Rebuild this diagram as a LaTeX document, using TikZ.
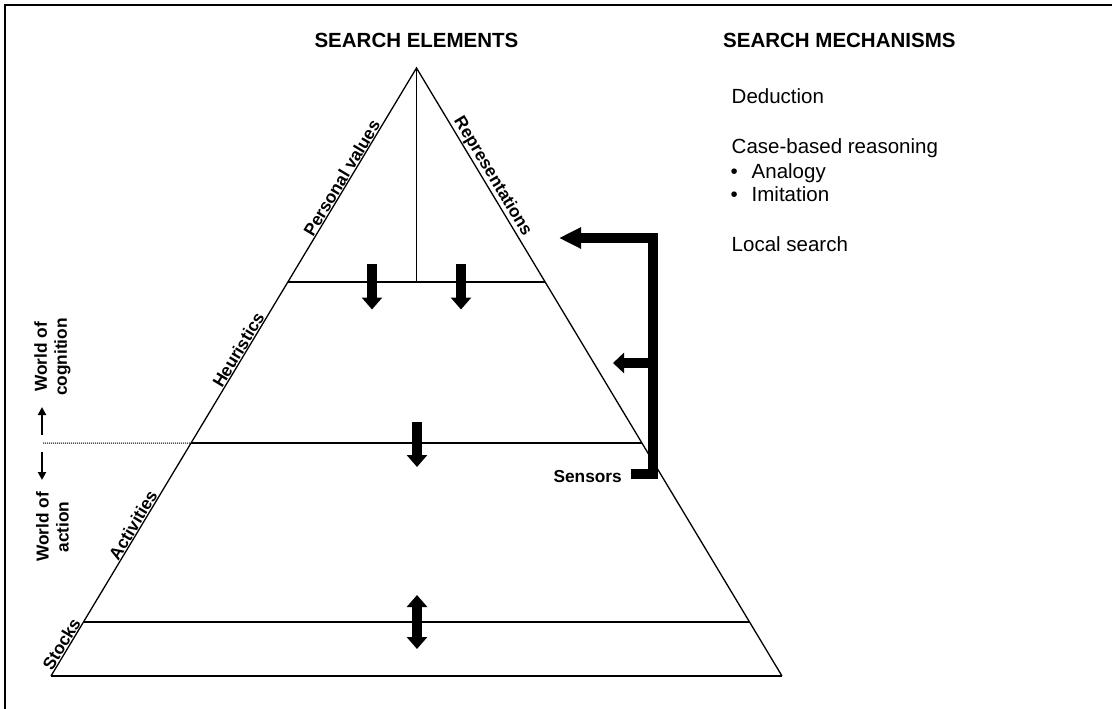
\documentclass[tikz,border=0pt]{standalone}
\usepackage{fontspec}
\setmainfont{Liberation Sans}
\usetikzlibrary{arrows.meta,calc}
\begin{document}
\begin{tikzpicture}[x=1pt,y=-1pt,
  edge/.style={line width=1.3pt},
  level/.style={line width=1.6pt},
  blockarrow/.style={line width=10pt, -{Triangle[width=20pt,length=12pt]}},
  dblarrow/.style={line width=10pt, {Triangle[width=20pt,length=12pt]}-{Triangle[width=20pt,length=12pt]}},
  thinarrow/.style={line width=2pt, -{Triangle[width=8pt,length=8pt]}},
  sidelabel/.style={font=\bfseries\fontsize{17.3}{20}\selectfont, inner sep=1pt},
  titlelabel/.style={font=\bfseries\fontsize{20.5}{24}\selectfont, anchor=base, inner sep=0pt},
  mech/.style={font=\fontsize{20.5}{24}\selectfont, anchor=base west, inner sep=0pt},
]
\useasboundingbox (0,0) rectangle (1112,709);
\draw[line width=2pt] (5,709) -- (5,5) -- (1112,5);

% pyramid
\coordinate (apex) at (416.5,68);
\coordinate (bl) at (51,676);
\coordinate (br) at (782,676);
\draw[edge] (bl) -- (apex) -- (br);
\draw[level] (bl) -- (br);
\coordinate (l1l) at ($(apex)!0.352!(bl)$);
\coordinate (l1r) at ($(apex)!0.352!(br)$);
\coordinate (l2l) at ($(apex)!0.617!(bl)$);
\coordinate (l2r) at ($(apex)!0.617!(br)$);
\coordinate (l3l) at ($(apex)!0.911!(bl)$);
\coordinate (l3r) at ($(apex)!0.911!(br)$);
\draw[level] (l1l) -- (l1r);
\draw[level] (l2l) -- (l2r);
\draw[level] (l3l) -- (l3r);
\draw[level] (apex) -- (apex |- l1l);

% world divider
\coordinate (divstart) at (43,443);
\draw[gray!70!black, line width=1.5pt, dash pattern=on 1pt off 1pt] (divstart) -- (l2l);

% edge labels
\node[sidelabel, anchor=south, rotate=59.02] (pv) at ($(apex)!0.187!(bl)$) {Personal values};
\node[sidelabel, anchor=south, rotate=59.02] (heu) at ($(apex)!0.47!(bl)$) {Heuristics};
\node[sidelabel, anchor=south, rotate=59.02] (act) at ($(apex)!0.758!(bl)$) {Activities};
\node[sidelabel, anchor=south, rotate=59.02] (stk) at ($(apex)!0.954!(bl)$) {Stocks};
\node[sidelabel, anchor=south, rotate=-59.02] (rep) at ($(apex)!0.186!(br)$) {Representations};

% block arrows inside
\coordinate (a1s) at (372,264); \coordinate (a1e) at (372,309.5);
\coordinate (a2s) at (461,264); \coordinate (a2e) at (461,309.5);
\coordinate (a3s) at (417,422); \coordinate (a3e) at (417,467);
\coordinate (a4s) at (417,595); \coordinate (a4e) at (417,649);
\draw[blockarrow] (a1s) -- (a1e);
\draw[blockarrow] (a2s) -- (a2e);
\draw[blockarrow] (a3s) -- (a3e);
\draw[dblarrow] (a4s) -- (a4e);

% sensors bracket
\node[sidelabel, anchor=east, inner sep=0pt] (sens) at (622,477) {Sensors};
\coordinate (sb0) at (631,473.5);
\coordinate (sb1) at (653,473.5);
\coordinate (sb2) at (653,238);
\coordinate (sbtip) at (559,238);
\coordinate (sm0) at (653,363);
\coordinate (smtip) at (613,363);
\draw[line width=10pt, line join=miter, -{Triangle[width=20pt,length=22pt]}] (sb0) -- (sb1) -- (sb2) -- (sbtip);
\draw[line width=10pt, -{Triangle[width=20pt,length=11pt]}] (sm0) -- (smtip);

% world labels
\node[sidelabel, rotate=90, align=center] (cog) at (52.5,357) {World of\\cognition};
\node[sidelabel, rotate=90, align=center] (actw) at (52.5,527) {World of\\action};
\coordinate (up0) at (42,435); \coordinate (up1) at (42,407);
\coordinate (dn0) at (42,452); \coordinate (dn1) at (42,480);
\draw[thinarrow] (up0) -- (up1);
\draw[thinarrow] (dn0) -- (dn1);

% titles
\node[titlelabel] (t1) at (416.5,48) {SEARCH ELEMENTS};
\node[titlelabel, anchor=base west] (t2) at (723,48) {SEARCH MECHANISMS};

% mechanisms
\node[mech] (m1) at (731.5,103.3) {Deduction};
\node[mech] (m2) at (731.5,153.3) {Case-based reasoning};
\node[mech] (b1) at (730.5,178.3) {•};
\node[mech] (m3) at (751.5,178.3) {Analogy};
\node[mech] (b2) at (730.5,201.7) {•};
\node[mech] (m4) at (751.5,201.7) {Imitation};
\node[mech] (m5) at (731.5,251.7) {Local search};
\end{tikzpicture}
\end{document}
